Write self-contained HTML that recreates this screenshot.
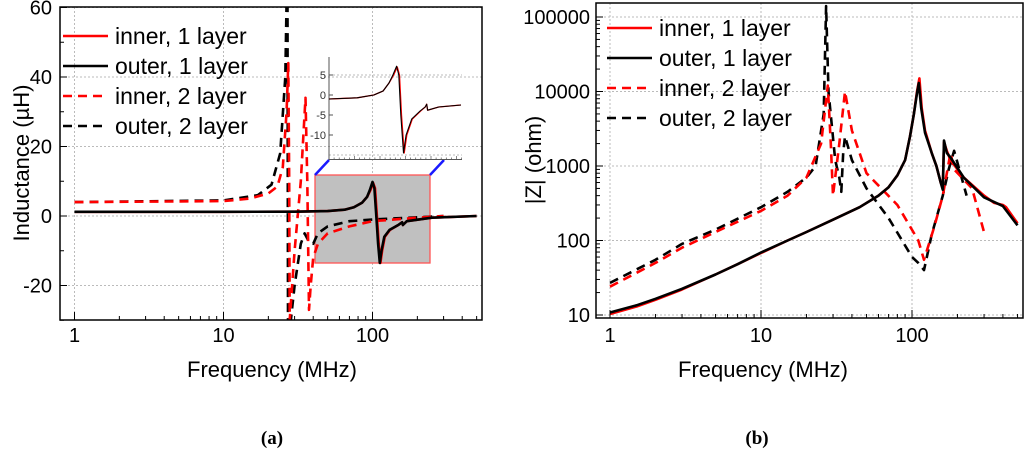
<!DOCTYPE html>
<html><head><meta charset="utf-8"><style>
body{margin:0;background:#fff;}
svg{display:block;font-family:"Liberation Sans",Arial,sans-serif;}
</style></head><body>
<svg id="fig" width="1024" height="449" viewBox="0 0 1024 449">
<defs>
<clipPath id="clipA"><rect x="60" y="7" width="422" height="313"/></clipPath>
<clipPath id="clipB"><rect x="596" y="3" width="427" height="315"/></clipPath>
<clipPath id="clipI"><rect x="329" y="55" width="135" height="105"/></clipPath>
</defs>
<g id="gA"></g>
<g id="gB"></g>
<text x="272" y="444" text-anchor="middle" font-family="Liberation Serif" font-weight="bold" font-size="19">(a)</text>
<text x="757" y="444" text-anchor="middle" font-family="Liberation Serif" font-weight="bold" font-size="19">(b)</text>
</svg>
<script>
// ---- data: panel (a) inductance (µH) vs frequency (MHz)
const inner1L = [[1,1.2],[10,1.2],[30,1.25],[50,1.4],[65,1.8],[75,2.5],[85,3.8],[92,5.5],[97,7.5],[101,9.5],[104,8],[107,0],[110,-8],[113,-13.5],[116,-10],[121,-6],[131,-4],[150,-2.5],[158,-1.8],[160,-2.6],[170,-1.5],[250,-0.5],[500,0]];
const outer1L = [[1,1.2],[10,1.2],[30,1.25],[50,1.4],[65,1.8],[75,2.5],[85,3.8],[92,5.5],[96,7.5],[100,9.8],[103,8],[106,0],[109,-8],[112,-13.5],[115,-10],[120,-6],[130,-4],[150,-2.5],[158,-1.8],[160,-2.6],[170,-1.5],[250,-0.5],[500,0]];
const inner2L = [[1,4],[10,4.3],[15,5],[20,6.5],[23,8.5],[25,14],[26.5,30],[27.2,44],[27.6,10],[27.8,-30],[30,-10],[33,10],[35.5,34],[36.5,10],[37.5,-27],[38.5,-20],[40,-12],[43,-8],[50,-5],[70,-3],[100,-1.5],[200,-0.5],[300,0]];
const outer2L = [[1,4],[10,4.5],[17,6],[21,9],[24,18],[26,40],[26.5,62],[26.9,62],[27.1,-32],[28,-32],[30,-20],[33,-8],[35,-5],[37,-7],[40,-8],[43,-5],[50,-3],[70,-1.5],[100,-1],[300,0]];
const insetInner = [[41,-1],[60,-0.7],[75,0],[85,1],[92,3],[98,5],[103,7],[106,5],[109,-5],[113,-14.5],[117,-10],[126,-6],[141,-4],[150,-3],[153,-2.3],[155,-3.8],[180,-3],[243,-2.5]];
const insetOuter = [[41,-1],[60,-0.7],[75,0],[85,1],[92,3],[97,5],[102,7.2],[105,5],[108,-5],[112,-14.5],[116,-10],[125,-6],[140,-4],[150,-3],[153,-2.3],[155,-3.8],[180,-3],[243,-2.5]];
const yTicksA = [-20,0,20,40,60];
const xTicks = [1,10,100];
const insetTicks = [5,0,-5,-10];
// ---- data: panel (b) |Z| (ohm)
const inner1Z = [[1,10.3],[1.5,13],[2,16],[3,22],[5,35],[7,48],[10,68],[15,100],[20,130],[30,190],[45,280],[60,400],[70,520],[80,750],[90,1200],[97,2500],[103,5000],[108,10000],[112,15000],[116,6000],[122,3000],[135,1500],[145,1000],[155,600],[160,500],[163,2100],[170,1600],[180,1200],[220,700],[300,400],[350,320],[400,300],[420,280],[500,170]];
const outer1Z = [[1,10.8],[1.5,13.5],[2,16.5],[3,22.5],[5,35],[7,48],[10,69],[15,100],[20,130],[30,190],[45,280],[60,400],[70,520],[80,750],[90,1200],[97,2500],[103,5000],[108,9500],[111,13000],[115,6000],[122,2800],[135,1500],[145,1000],[155,600],[160,480],[163,2200],[170,1500],[180,1300],[220,700],[300,380],[400,290],[500,160]];
const inner2Z = [[1,24],[2,50],[3,80],[5,130],[10,250],[15,400],[20,700],[25,2000],[27.7,12000],[29,2000],[30,400],[33,2000],[36,10000],[40,3000],[50,800],[80,300],[110,100],[120,55],[140,150],[160,400],[180,1500],[190,900],[250,500],[300,130]];
const outer2Z = [[1,27],[2,55],[3,90],[5,140],[10,280],[15,450],[20,700],[23,1000],[26,5000],[27,140000],[28,10000],[31,1200],[33,700],[34,450],[35,1500],[36,2500],[40,1200],[50,500],[70,200],[100,60],[110,50],[120,40],[135,120],[160,400],[175,900],[190,1600],[200,1100],[230,400]];
const yTicksB = [10,100,1000,10000,100000];

const NS="http://www.w3.org/2000/svg";
function mk(tag,attrs,parent){const e=document.createElementNS(NS,tag);for(const k in attrs)e.setAttribute(k,attrs[k]);parent.appendChild(e);return e;}
const L10=Math.log10;
const xA=f=>74.5+149*L10(f);
const yA=v=>216-v*3.475;
const xB=f=>610+151*L10(f);
const yB=v=>315-74.5*(L10(v)-1);
const xI=f=>329+132*(L10(f)-L10(41))/(L10(243)-L10(41));
const yI=v=>95-v*4;

function path(data,xs,ys,parent,color,dash,w,name){
  const d=data.map((p,i)=>(i?'L':'M')+xs(p[0]).toFixed(1)+' '+ys(p[1]).toFixed(1)).join(' ');
  const e=mk('path',{d:d,fill:'none',stroke:color,'stroke-width':w,'stroke-linejoin':'round'},parent);
  if(dash)e.setAttribute('stroke-dasharray',dash);
  
  
  return e;
}
function logMinor(xs,y0,len,parent,fmax){
  for(let dec=1;dec<=100;dec*=10)for(let m=1;m<10;m++){const f=dec*m;if(f>fmax)break;
    const x=xs(f);const t=mk('line',{x1:x,x2:x,y1:y0,y2:y0-(m===1?8:4),stroke:'#000','stroke-width':1},parent);
    }
}
function legend(parent,x,y,fs,step){
  const items=[['inner, 1 layer','red',null],['outer, 1 layer','#000',null],['inner, 2 layer','red','9 6'],['outer, 2 layer','#000','9 6']];
  const g=mk('g',{},parent);
  items.forEach((it,i)=>{const yy=y+i*step;
    const ln=mk('line',{x1:x,x2:x+45,y1:yy,y2:yy,stroke:it[1],'stroke-width':2.6},g);
    if(it[2])ln.setAttribute('stroke-dasharray',it[2]);
    
    const t=mk('text',{x:x+52,y:yy+8,'font-size':fs},g);t.textContent=it[0];
    });
}

// ===== Panel A
const gA=document.getElementById('gA');
xTicks.forEach(f=>{const g=mk('line',{x1:xA(f),x2:xA(f),y1:7,y2:320,stroke:'#bbb','stroke-dasharray':'2 2'},gA);});
yTicksA.forEach(v=>{const g=mk('line',{x1:60,x2:482,y1:yA(v),y2:yA(v),stroke:'#bbb','stroke-dasharray':'2 2'},gA);});
const box=mk('rect',{x:315,y:175,width:115,height:88,fill:'#c0c0c0',stroke:'#f55','stroke-width':1.3},gA);

mk('line',{x1:315,y1:175,x2:329,y2:160,stroke:'#1a1aff','stroke-width':2.5},gA);
mk('line',{x1:430,y1:175,x2:444,y2:160,stroke:'#1a1aff','stroke-width':2.5},gA);
const cA=mk('g',{'clip-path':'url(#clipA)'},gA);
path(outer2L,xA,yA,cA,'#000','9 6',2.6,'series-outer-2-layer');
path(inner2L,xA,yA,cA,'red','9 6',2.6,'series-inner-2-layer');
path(inner1L,xA,yA,cA,'red',null,2.6,'series-inner-1-layer');
path(outer1L,xA,yA,cA,'#000',null,2.6,'series-outer-1-layer');
mk('rect',{x:60,y:7,width:422,height:313,fill:'none',stroke:'#000','stroke-width':1.5},gA);
logMinor(xA,320,6,gA,500);
yTicksA.forEach(v=>{mk('line',{x1:60,x2:67,y1:yA(v),y2:yA(v),stroke:'#000'},gA);
  const t=mk('text',{x:52,y:yA(v)+7,'text-anchor':'end','font-size':20},gA);t.textContent=v;
  });
[-30,-10,10,30,50].forEach(v=>mk('line',{x1:60,x2:64,y1:yA(v),y2:yA(v),stroke:'#000'},gA));
xTicks.forEach(f=>{const t=mk('text',{x:xA(f),y:342,'text-anchor':'middle','font-size':20},gA);t.textContent=f;
  });
let t=mk('text',{x:272,y:377,'text-anchor':'middle','font-size':22},gA);t.textContent='Frequency (MHz)';

t=mk('text',{x:0,y:0,'text-anchor':'middle','font-size':22,transform:'translate(29,163) rotate(-90)'},gA);t.textContent='Inductance (µH)';

legend(gA,63,36,23,30);
const gI=mk('g',{},gA);
[5,-15].forEach(v=>mk('line',{x1:329,x2:462,y1:yI(v),y2:yI(v),stroke:'#bbb','stroke-dasharray':'2 2'},gI));
mk('line',{x1:329,x2:329,y1:57,y2:160,stroke:'#555'},gI);
mk('line',{x1:329,x2:462,y1:159.5,y2:159.5,stroke:'#555'},gI);
for(let i=0;i<=26;i++){const x=329+i*5.1;mk('line',{x1:x,x2:x,y1:159.5,y2:i%5?157.5:156,stroke:'#555','stroke-width':0.7},gI);}
insetTicks.forEach(v=>{mk('line',{x1:329,x2:333,y1:yI(v),y2:yI(v),stroke:'#555'},gI);
  const tt=mk('text',{x:326,y:yI(v)+4,'text-anchor':'end','font-size':11,fill:'#333'},gI);tt.textContent=v;
  });
const cI=mk('g',{'clip-path':'url(#clipI)'},gI);
path(insetInner,xI,yI,cI,'red',null,1.3,'inset-inner-1-layer');
path(insetOuter,xI,yI,cI,'#000',null,1.1,'inset-outer-1-layer');

// ===== Panel B
const gB=document.getElementById('gB');
xTicks.forEach(f=>{const g=mk('line',{x1:xB(f),x2:xB(f),y1:3,y2:318,stroke:'#bbb','stroke-dasharray':'2 2'},gB);});
yTicksB.forEach(v=>{const g=mk('line',{x1:596,x2:1023,y1:yB(v),y2:yB(v),stroke:'#bbb','stroke-dasharray':'2 2'},gB);});
const cB=mk('g',{'clip-path':'url(#clipB)'},gB);
path(outer2Z,xB,yB,cB,'#000','9 6',2.6,'series-outer-2-layer');
path(inner2Z,xB,yB,cB,'red','9 6',2.6,'series-inner-2-layer');
path(inner1Z,xB,yB,cB,'red',null,2.6,'series-inner-1-layer');
path(outer1Z,xB,yB,cB,'#000',null,2.6,'series-outer-1-layer');
mk('rect',{x:596,y:3,width:427,height:315,fill:'none',stroke:'#000','stroke-width':1.5},gB);
logMinor(xB,318,6,gB,500);
for(let dec=10;dec<=100000;dec*=10)for(let m=1;m<10;m++){const v=dec*m;if(v>150000)break;
  mk('line',{x1:596,x2:596+(m===1?7:4),y1:yB(v),y2:yB(v),stroke:'#000'},gB);}
yTicksB.forEach(v=>{const tt=mk('text',{x:590,y:yB(v)+7,'text-anchor':'end','font-size':20},gB);tt.textContent=v;
  });
xTicks.forEach(f=>{const tt=mk('text',{x:xB(f),y:342,'text-anchor':'middle','font-size':20},gB);tt.textContent=f;
  });
t=mk('text',{x:763,y:377,'text-anchor':'middle','font-size':22},gB);t.textContent='Frequency (MHz)';

t=mk('text',{x:0,y:0,'text-anchor':'middle','font-size':22,transform:'translate(541,160) rotate(-90)'},gB);t.textContent='|Z| (ohm)';

legend(gB,607,28,23,30);
</script>
</body></html>
